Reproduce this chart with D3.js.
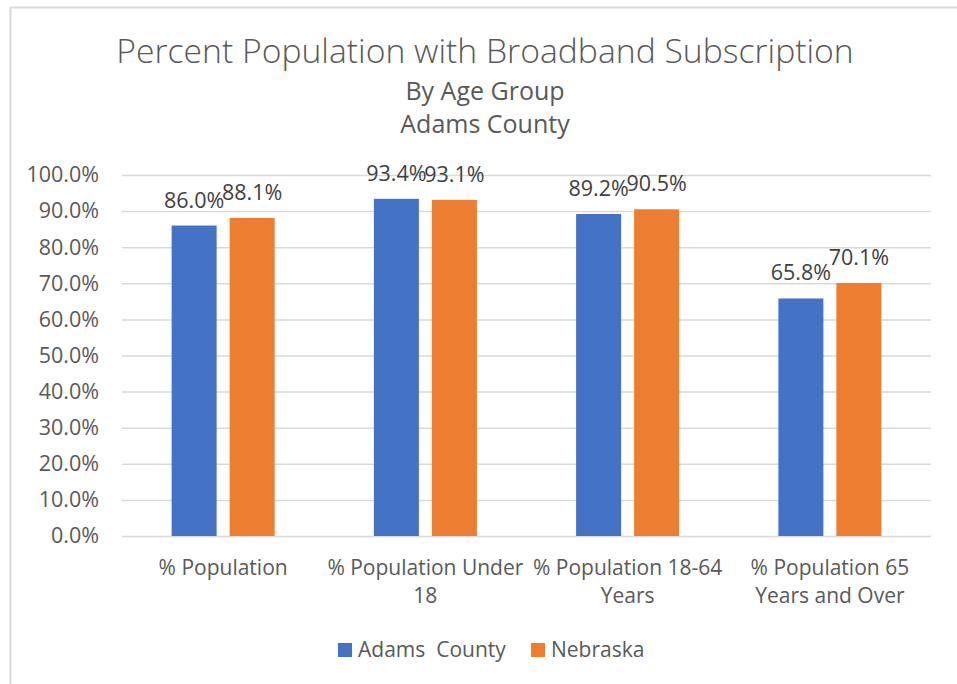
<!DOCTYPE html>
<html>
<head>
<meta charset="utf-8">
<script src="https://cdn.jsdelivr.net/npm/d3@7"></script>
<style>
  html, body { margin: 0; padding: 0; background: #fff; }
  svg { display: block; }
  text { font-family: "Open Sans", sans-serif; }
</style>
</head>
<body>
<svg id="chart" width="957" height="684"></svg>
<script>
// Broadband subscription rates by age group
const categories = [
  ["% Population"],
  ["% Population Under", "18"],
  ["% Population 18-64", "Years"],
  ["% Population 65", "Years and Over"]
];
const seriesNames = ["Adams  County", "Nebraska"];
const adamsCounty = [86.0, 93.4, 89.2, 65.8];
const nebraska = [88.1, 93.1, 90.5, 70.1];
const yTicks = [0, 10, 20, 30, 40, 50, 60, 70, 80, 90, 100];
const colors = ["#4472C4", "#ED7D31"];

const series = [adamsCounty, nebraska];
const catKeys = categories.map(c => c.join(" "));

const svg = d3.select("#chart");
const W = 957, H = 684;

// chart frame
svg.append("rect")
  .attr("x", 10.5).attr("y", 7.5)
  .attr("width", W + 20).attr("height", H + 20)
  .attr("fill", "#fff")
  .attr("stroke", "#d9d9d9").attr("stroke-width", 2);

const plot = { left: 122, right: 931, top: 175, bottom: 536 };

const x0 = d3.scaleBand().domain(catKeys).range([plot.left, plot.right]).paddingInner(0).paddingOuter(0);
const inner = 103;
const x1 = d3.scaleBand().domain(seriesNames)
  .range([x0.bandwidth() / 2 - inner / 2, x0.bandwidth() / 2 + inner / 2])
  .paddingInner(13 / 58).paddingOuter(0);
const y = d3.scaleLinear().domain([0, 100]).range([plot.bottom, plot.top]);

// gridlines and y-axis labels
const yAxis = d3.axisLeft(y)
  .tickValues(yTicks)
  .tickSize(-(plot.right - plot.left))
  .tickPadding(23)
  .tickFormat(d => d.toFixed(1) + "%");
const gy = svg.append("g").attr("transform", `translate(${plot.left},0)`).call(yAxis);
gy.select(".domain").remove();
gy.selectAll(".tick line").attr("stroke", "#d9d9d9").attr("stroke-width", 1.5);
gy.selectAll(".tick text")
  .attr("fill", "#595959")
  .style("font-size", "21.5px")
  .style("font-family", "'Open Sans', sans-serif");

// bars
const groups = svg.append("g").selectAll("g")
  .data(catKeys)
  .join("g")
  .attr("transform", d => `translate(${x0(d)},0)`);

groups.selectAll("rect")
  .data((d, i) => seriesNames.map((s, j) => ({ s, j, v: series[j][i] })))
  .join("rect")
  .attr("x", d => x1(d.s))
  .attr("width", x1.bandwidth())
  .attr("y", d => y(d.v))
  .attr("height", d => y(0) - y(d.v))
  .attr("fill", d => colors[d.j]);

// value labels
groups.selectAll("text.val")
  .data((d, i) => seriesNames.map((s, j) => ({ s, j, v: series[j][i] })))
  .join("text")
  .attr("class", "val")
  .attr("x", d => x1(d.s) + x1.bandwidth() / 2)
  .attr("y", d => y(d.v) - 18)
  .attr("text-anchor", "middle")
  .attr("fill", "#404040")
  .style("font-size", "21.5px")
  .text(d => d.v.toFixed(1) + "%");

// category labels
const cat = svg.append("g").selectAll("text")
  .data(categories)
  .join("text")
  .attr("x", (d, i) => x0(catKeys[i]) + x0.bandwidth() / 2)
  .attr("y", 575)
  .attr("text-anchor", "middle")
  .attr("fill", "#595959")
  .style("font-size", "21px");
cat.selectAll("tspan")
  .data(d => d)
  .join("tspan")
  .attr("x", function () { return d3.select(this.parentNode).attr("x"); })
  .attr("dy", (d, i) => i === 0 ? 0 : 28)
  .text(d => d);

// titles
svg.append("text")
  .attr("x", 485).attr("y", 63)
  .attr("text-anchor", "middle")
  .attr("fill", "#595959")
  .style("font-size", "33.7px")
  .style("font-weight", 300)
  .text("Percent Population with Broadband Subscription");
svg.append("text")
  .attr("x", 485).attr("y", 100)
  .attr("text-anchor", "middle")
  .attr("fill", "#595959")
  .style("font-size", "25px")
  .text("By Age Group");
svg.append("text")
  .attr("x", 485).attr("y", 133)
  .attr("text-anchor", "middle")
  .attr("fill", "#595959")
  .style("font-size", "25px")
  .text("Adams County");

// legend
const legendX = [338, 531];
const legend = svg.append("g").selectAll("g")
  .data(seriesNames)
  .join("g")
  .attr("transform", (d, i) => `translate(${legendX[i]},643)`);
legend.append("rect")
  .attr("width", 14).attr("height", 14)
  .attr("fill", (d, i) => colors[i]);
legend.append("text")
  .attr("x", 20).attr("y", 14)
  .attr("fill", "#595959")
  .style("font-size", "21px")
  .style("white-space", "pre")
  .attr("xml:space", "preserve")
  .text(d => d);
</script>
</body>
</html>
